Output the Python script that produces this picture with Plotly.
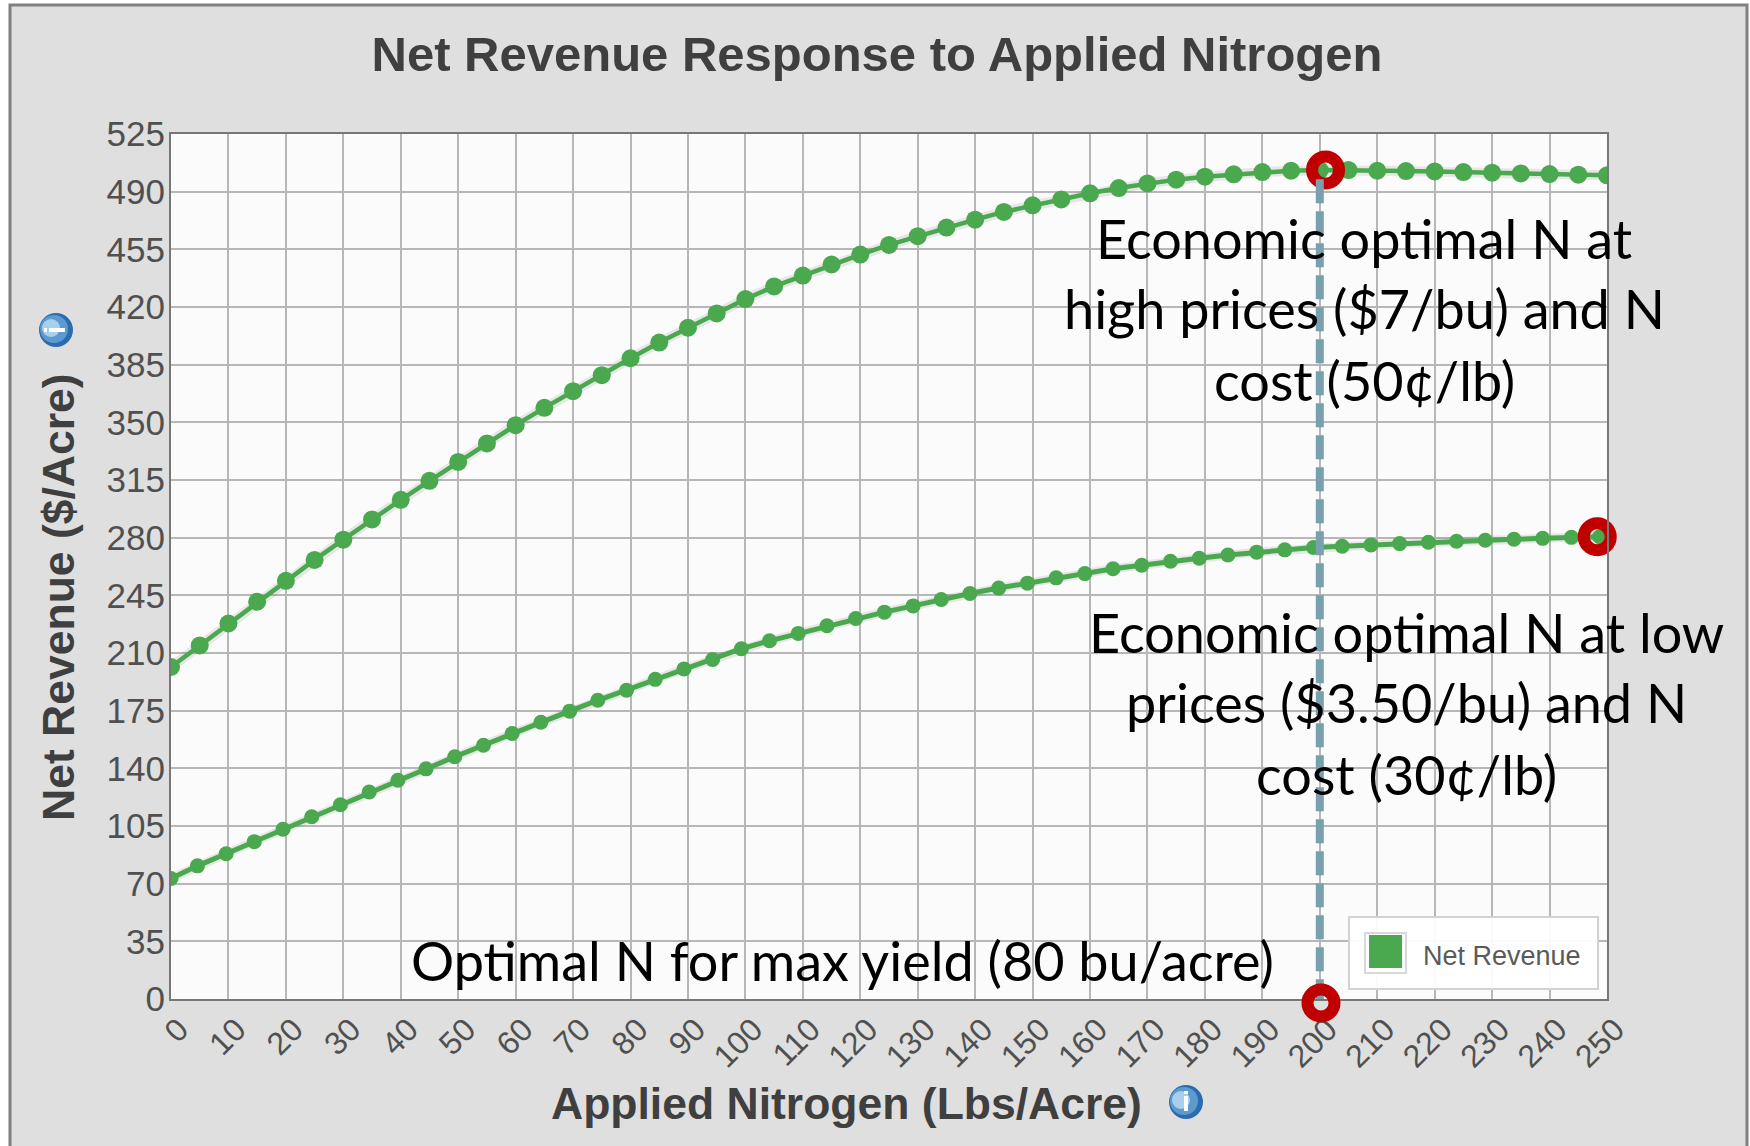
import plotly.graph_objects as go

W, H = 1750, 1146
L, R, T, B = 171, 1607, 134, 999

title_text = "Net Revenue Response to Applied Nitrogen"
x_title = "Applied Nitrogen (Lbs/Acre)"
y_title = "Net Revenue ($/Acre)"
legend_label = "Net Revenue"

x_ticks = list(range(0, 251, 10))
y_ticks = list(range(0, 526, 35))

x_high = [0, 5, 10, 15, 20, 25, 30, 35, 40, 45, 50, 55, 60, 65, 70, 75, 80, 85, 90, 95,
          100, 105, 110, 115, 120, 125, 130, 135, 140, 145, 150, 155, 160, 165, 170, 175,
          180, 185, 190, 195, 200, 205, 210, 215, 220, 225, 230, 235, 240, 245, 250]
y_high = [201.5, 214.6, 227.9, 241.1, 253.8, 266.5, 278.8, 291.1, 303.0, 314.5, 326.0, 337.2,
          348.3, 358.8, 368.9, 378.6, 388.9, 398.4, 407.4, 416.1, 424.8, 432.5, 439.1, 445.8,
          451.8, 457.7, 463.0, 468.2, 473.0, 477.7, 481.7, 485.3, 489.0, 492.2, 495.0, 497.3,
          499.1, 500.5, 501.9, 502.7, 503.1, 503.1, 502.7, 502.5, 502.3, 501.9, 501.5, 501.1,
          500.7, 500.3, 499.9]

x_low = [0, 4.6, 9.6, 14.5, 19.5, 24.5, 29.5, 34.5, 39.5, 44.4, 49.4, 54.4, 59.4, 64.4, 69.4,
         74.3, 79.3, 84.3, 89.3, 94.3, 99.3, 104.2, 109.2, 114.2, 119.2, 124.2, 129.2, 134.1,
         139.1, 144.1, 149.1, 154.1, 159.1, 164.0, 169.0, 174.0, 179.0, 184.0, 189.0, 193.9,
         198.9, 203.9, 208.9, 213.9, 218.9, 223.8, 228.8, 233.8, 238.8, 243.8, 248.7]
y_low = [73.1, 80.8, 88.2, 95.5, 103.0, 110.6, 117.9, 125.6, 132.8, 139.7, 147.0, 154.0, 161.1,
         168.0, 174.7, 181.3, 187.4, 194.0, 200.3, 206.1, 212.6, 217.4, 221.9, 226.5, 230.9,
         234.8, 238.6, 242.5, 246.1, 249.4, 252.4, 255.6, 258.2, 261.1, 263.3, 265.7, 267.5,
         269.5, 271.2, 272.6, 274.0, 274.8, 275.6, 276.4, 277.2, 277.8, 278.4, 279.0, 279.6,
         280.2, 280.6]

optimum_x = [201.0, 248.3]
optimum_y = [503.1, 280.6]
guide_x = [200.0, 200.0]
guide_y = [497.5, 0.0]

notes = [
    ("Economic optimal N at", 1364, 238),
    ("high prices ($7/bu) and N", 1364, 308),
    ("cost (50¢/lb)", 1364, 380),
    ("Economic optimal N at low", 1406, 632),
    ("prices ($3.50/bu) and N", 1406, 702),
    ("cost (30¢/lb)", 1406, 774),
    ("Optimal N for max yield (80 bu/acre)", 842, 960),
]

GREEN = "#4aa84e"
SHADOW = "rgba(90,90,90,0.13)"
TICK = "#505050"
DARK = "#3f3f3f"


def px(v):
    return (v - L) / (R - L)


def py(v):
    return (B - v) / (B - T)


def rect(x0, y0, x1, y1, fill, line="rgba(0,0,0,0)", width=0, layer="below"):
    return dict(type="rect", xref="paper", yref="paper", x0=px(x0), x1=px(x1), y0=py(y0), y1=py(y1),
                fillcolor=fill, line=dict(color=line, width=width), layer=layer)


def disc(cx, cy, r, fill):
    return dict(type="circle", xref="paper", yref="paper", x0=px(cx - r), x1=px(cx + r),
                y0=py(cy + r), y1=py(cy - r), fillcolor=fill, line=dict(width=0), layer="above")


def icon(cx, cy, vertical):
    s = [disc(cx, cy, 17, "#2a6cae"), disc(cx - 2, cy - 1, 14, "#5c9ad0"), disc(cx - 5, cy - 2, 9, "#a9d0ea")]
    if vertical:
        s.append(rect(cx - 2, cy - 6, cx + 2, cy + 9, "#ffffff", layer="above"))
        s.append(rect(cx - 2, cy - 11, cx + 2, cy - 8, "#ffffff", layer="above"))
    else:
        s.append(rect(cx - 7, cy - 2, cx + 9, cy + 2, "#ffffff", layer="above"))
        s.append(rect(cx - 12, cy - 2, cx - 9, cy + 2, "#ffffff", layer="above"))
    return s


fig = go.Figure()
for xs, ys, lw in ((x_high, y_high, 10), (x_low, y_low, 9)):
    fig.add_trace(go.Scatter(x=xs, y=ys, mode="lines", line=dict(color=SHADOW, width=lw),
                             hoverinfo="skip", showlegend=False))
fig.add_trace(go.Scatter(x=x_high, y=y_high, mode="lines+markers", name="Net Revenue (high prices)",
                         line=dict(color=GREEN, width=4.5), marker=dict(color=GREEN, size=18),
                         showlegend=False))
fig.add_trace(go.Scatter(x=x_low, y=y_low, mode="lines+markers", name="Net Revenue (low prices)",
                         line=dict(color=GREEN, width=5), marker=dict(color=GREEN, size=15),
                         showlegend=False))
fig.add_trace(go.Scatter(x=optimum_x, y=optimum_y, mode="markers", cliponaxis=False, showlegend=False,
                         marker=dict(size=27, color="rgba(0,0,0,0)", line=dict(color="#c00000", width=12))))
fig.add_trace(go.Scatter(x=guide_x, y=guide_y, mode="lines", cliponaxis=False, showlegend=False,
                         line=dict(color="#7a9fae", width=8, dash="24px,8px")))

shapes = [
    rect(10, 5, 1747, 1160, "#dfdfdf", "#808080", 3),
    rect(L, T, R, B, "#fbfbfb"),
    rect(1349, 917, 1598, 989, "rgba(255,255,255,0.92)", "#d2d2d2", 2, "above"),
    rect(1365, 933, 1406, 973, "rgba(255,255,255,0.9)", "#d8d8d8", 2, "above"),
    rect(1369, 935, 1402, 968, GREEN, layer="above"),
    dict(type="circle", xref="paper", yref="paper", x0=px(1321 - 13.5), x1=px(1321 + 13.5),
         y0=py(1003 + 13.5), y1=py(1003 - 13.5), fillcolor="rgba(0,0,0,0)",
         line=dict(color="#c00000", width=12), layer="above"),
]
shapes += icon(56, 330, False) + icon(1186, 1102, True)

annotations = [
    dict(text=t, xref="paper", yref="paper", x=px(cx), y=py(cy), xanchor="center", yanchor="middle",
         showarrow=False, font=dict(family="Lato", size=54, color="#000000"))
    for t, cx, cy in notes
]
annotations.append(dict(text=legend_label, xref="paper", yref="paper", x=px(1421), y=py(956),
                        xanchor="left", yanchor="middle", showarrow=False,
                        font=dict(family="Liberation Sans", size=27, color="#5a5a5a")))
annotations.append(dict(text=f"<b>{x_title}</b>", xref="paper", yref="paper", x=px(846), y=py(1103),
                        xanchor="center", yanchor="middle", showarrow=False,
                        font=dict(family="Liberation Sans", size=44.5, color=DARK)))
annotations.append(dict(text=f"<b>{y_title}</b>", xref="paper", yref="paper", x=px(58), y=py(597),
                        xanchor="center", yanchor="middle", showarrow=False, textangle=-90,
                        font=dict(family="Liberation Sans", size=44.5, color=DARK)))

fig.update_layout(
    width=W, height=H, autosize=False,
    margin=dict(l=L, r=W - R, t=T, b=H - B, pad=0),
    paper_bgcolor="#ffffff", plot_bgcolor="#fbfbfb",
    font=dict(family="Liberation Sans", color=TICK),
    title=dict(text=f"<b>{title_text}</b>", xref="paper", x=px(877), xanchor="center",
               yref="container", y=1 - 54 / H, yanchor="middle",
               font=dict(family="Liberation Sans", size=49, color=DARK)),
    shapes=shapes, annotations=annotations, showlegend=False, hovermode="closest",
    xaxis=dict(range=[0, 250], tickmode="array", tickvals=x_ticks, tickangle=-45,
               tickfont=dict(size=32, color=TICK), showgrid=True, gridcolor="#b7b7b7", gridwidth=2,
               showline=True, linecolor="#777777", linewidth=2, mirror=True, ticks="", ticklen=0,
               zeroline=False, automargin=False, ticklabelshift=8, ticklabelstandoff=-3),
    yaxis=dict(range=[0, 525], tickmode="array", tickvals=y_ticks,
               tickfont=dict(size=35, color=TICK), showgrid=True, gridcolor="#b7b7b7", gridwidth=2,
               showline=True, linecolor="#777777", linewidth=2, mirror=True, ticks="", ticklen=0,
               zeroline=False, automargin=False, ticklabelstandoff=-3),
)

fig.write_html("out.html", config={"displayModeBar": False},
               post_script="document.body.style.margin='0';document.body.style.overflow='hidden';")
